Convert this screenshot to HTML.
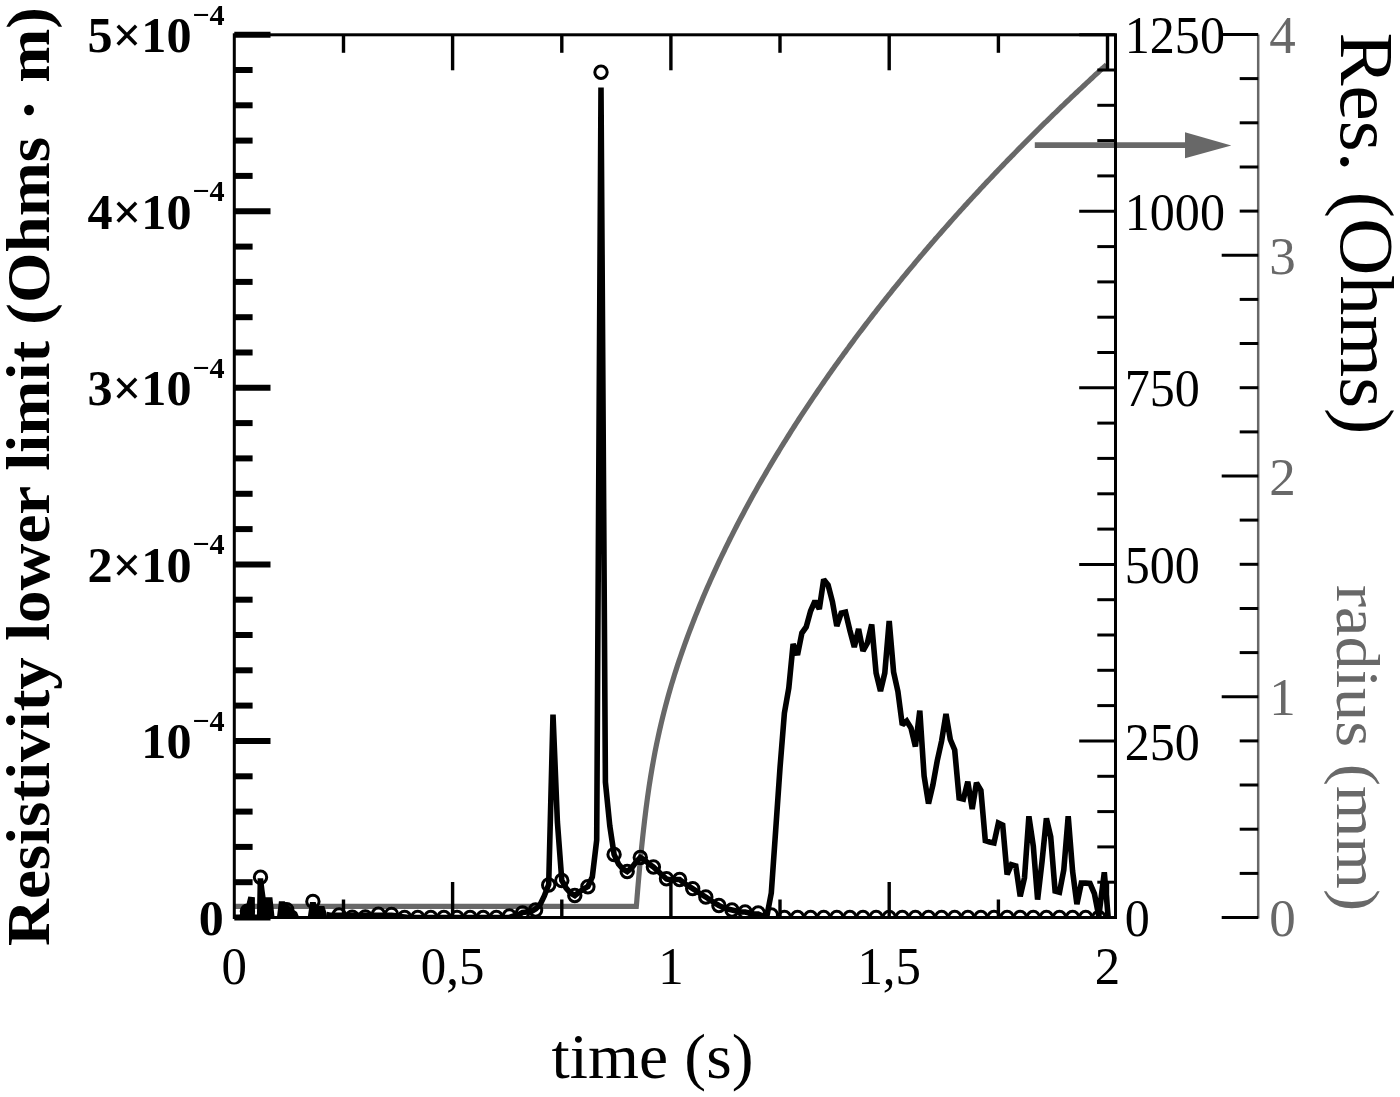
<!DOCTYPE html>
<html><head><meta charset="utf-8"><style>html,body{margin:0;padding:0;background:#fff;}svg{display:block;will-change:transform;}</style></head>
<body><svg width="1400" height="1097" viewBox="0 0 1400 1097">
<defs><clipPath id="cp"><rect x="234.3" y="34.8" width="881.2" height="884.2"/></clipPath></defs>
<rect width="1400" height="1097" fill="#fff"/>
<g clip-path="url(#cp)">
<polyline points="234.3,906.3 636.3,906.3 636.6,903.3 636.9,899.6 637.2,895.8 637.5,892.2 637.8,888.5 638.1,885.0 638.4,881.5 638.7,878.0 639.0,874.6 639.3,871.3 639.6,868.0 639.9,864.8 640.0,863.7 641.5,848.4 643.0,834.3 644.5,821.1 646.0,808.9 647.5,797.7 649.0,787.2 650.5,777.5 652.0,768.5 653.5,760.1 655.0,752.1 656.5,744.6 658.0,737.5 659.5,730.6 661.0,724.1 662.5,717.9 664.0,711.9 665.5,706.1 667.0,700.5 668.5,695.0 670.0,689.8 671.5,684.6 673.0,679.7 674.5,674.8 676.0,670.1 677.5,665.4 679.0,660.9 680.5,656.5 682.0,652.1 683.5,647.8 685.0,643.6 686.5,639.5 688.0,635.4 689.5,631.4 691.0,627.5 692.5,623.6 694.0,619.7 695.5,615.9 697.0,612.2 698.5,608.5 700.0,604.8 701.5,601.2 703.0,597.6 704.5,594.1 706.0,590.6 707.5,587.1 709.0,583.7 710.5,580.3 712.0,577.0 713.5,573.7 715.0,570.4 716.5,567.1 718.0,563.9 719.5,560.7 721.0,557.5 722.5,554.4 724.0,551.3 725.5,548.2 727.0,545.1 728.5,542.1 730.0,539.0 731.5,536.1 733.0,533.1 734.5,530.1 736.0,527.2 737.5,524.3 739.0,521.4 740.5,518.6 742.0,515.7 743.5,512.9 745.0,510.1 746.5,507.3 748.0,504.5 749.5,501.8 751.0,499.0 752.5,496.3 754.0,493.6 755.5,490.9 757.0,488.3 758.5,485.6 760.0,483.0 761.5,480.4 763.0,477.8 764.5,475.2 766.0,472.6 767.5,470.0 769.0,467.5 770.5,464.9 772.0,462.4 773.5,459.9 775.0,457.4 776.5,454.9 778.0,452.5 779.5,450.0 781.0,447.5 782.5,445.1 784.0,442.7 785.5,440.3 787.0,437.9 788.5,435.5 790.0,433.1 791.5,430.7 793.0,428.4 794.5,426.0 796.0,423.7 797.5,421.4 799.0,419.0 800.5,416.7 802.0,414.4 803.5,412.1 805.0,409.9 806.5,407.6 808.0,405.3 809.5,403.1 811.0,400.8 812.5,398.6 814.0,396.4 815.5,394.2 817.0,392.0 818.5,389.8 820.0,387.6 821.5,385.4 823.0,383.2 824.5,381.1 826.0,378.9 827.5,376.7 829.0,374.6 830.5,372.5 832.0,370.3 833.5,368.2 835.0,366.1 836.5,364.0 838.0,361.9 839.5,359.8 841.0,357.8 842.5,355.7 844.0,353.6 845.5,351.6 847.0,349.5 848.5,347.5 850.0,345.4 851.5,343.4 853.0,341.4 854.5,339.3 856.0,337.3 857.5,335.3 859.0,333.3 860.5,331.3 862.0,329.4 863.5,327.4 865.0,325.4 866.5,323.4 868.0,321.5 869.5,319.5 871.0,317.6 872.5,315.6 874.0,313.7 875.5,311.8 877.0,309.8 878.5,307.9 880.0,306.0 881.5,304.1 883.0,302.2 884.5,300.3 886.0,298.4 887.5,296.5 889.0,294.6 890.5,292.8 892.0,290.9 893.5,289.0 895.0,287.2 896.5,285.3 898.0,283.5 899.5,281.6 901.0,279.8 902.5,277.9 904.0,276.1 905.5,274.3 907.0,272.5 908.5,270.7 910.0,268.9 911.5,267.1 913.0,265.3 914.5,263.5 916.0,261.7 917.5,259.9 919.0,258.1 920.5,256.3 922.0,254.6 923.5,252.8 925.0,251.0 926.5,249.3 928.0,247.5 929.5,245.8 931.0,244.0 932.5,242.3 934.0,240.6 935.5,238.8 937.0,237.1 938.5,235.4 940.0,233.7 941.5,232.0 943.0,230.3 944.5,228.6 946.0,226.9 947.5,225.2 949.0,223.5 950.5,221.8 952.0,220.1 953.5,218.4 955.0,216.7 956.5,215.1 958.0,213.4 959.5,211.7 961.0,210.1 962.5,208.4 964.0,206.8 965.5,205.1 967.0,203.5 968.5,201.8 970.0,200.2 971.5,198.6 973.0,196.9 974.5,195.3 976.0,193.7 977.5,192.1 979.0,190.5 980.5,188.8 982.0,187.2 983.5,185.6 985.0,184.0 986.5,182.4 988.0,180.8 989.5,179.3 991.0,177.7 992.5,176.1 994.0,174.5 995.5,172.9 997.0,171.4 998.5,169.8 1000.0,168.2 1001.5,166.7 1003.0,165.1 1004.5,163.5 1006.0,162.0 1007.5,160.4 1009.0,158.9 1010.5,157.4 1012.0,155.8 1013.5,154.3 1015.0,152.8 1016.5,151.2 1018.0,149.7 1019.5,148.2 1021.0,146.7 1022.5,145.1 1024.0,143.6 1025.5,142.1 1027.0,140.6 1028.5,139.1 1030.0,137.6 1031.5,136.1 1033.0,134.6 1034.5,133.1 1036.0,131.6 1037.5,130.1 1039.0,128.7 1040.5,127.2 1042.0,125.7 1043.5,124.2 1045.0,122.7 1046.5,121.3 1048.0,119.8 1049.5,118.3 1051.0,116.9 1052.5,115.4 1054.0,114.0 1055.5,112.5 1057.0,111.1 1058.5,109.6 1060.0,108.2 1061.5,106.7 1063.0,105.3 1064.5,103.9 1066.0,102.4 1067.5,101.0 1069.0,99.6 1070.5,98.2 1072.0,96.7 1073.5,95.3 1075.0,93.9 1076.5,92.5 1078.0,91.1 1079.5,89.7 1081.0,88.3 1082.5,86.9 1084.0,85.5 1085.5,84.1 1087.0,82.7 1088.5,81.3 1090.0,79.9 1091.5,78.5 1093.0,77.1 1094.5,75.7 1096.0,74.3 1097.5,73.0 1099.0,71.6 1100.5,70.2 1102.0,68.8 1103.5,67.5 1105.0,66.1 1106.5,64.8" fill="none" stroke="#686868" stroke-width="5.2"/>
<polyline points="326.5,914.5 330.0,915.2 330.4,915.2 334.7,915.2 339.1,915.2 343.5,915.2 347.8,915.2 352.2,915.2 356.5,915.2 360.9,915.2 365.3,915.2 369.6,915.2 374.0,915.2 378.4,915.2 382.7,915.2 387.1,915.2 391.5,915.2 395.8,915.8 400.2,916.5 404.6,917.0 408.9,917.5 413.3,917.5 417.7,917.5 422.0,917.5 426.4,917.5 430.8,917.5 435.1,917.5 439.5,917.5 443.9,917.5 448.2,917.5 452.6,917.5 457.0,917.5 461.3,917.5 465.7,917.5 470.1,917.5 474.4,917.5 478.8,917.5 483.2,917.5 487.5,917.5 491.9,917.5 496.3,917.5 500.6,917.5 505.0,917.5 509.4,917.5 513.7,916.0 518.1,915.0 522.5,912.5 526.8,912.0 531.2,911.5 535.6,909.0 539.9,905.0 544.3,896.0 548.7,884.5 553.0,714.5 557.4,822.0 561.8,880.5 566.1,888.0 570.5,893.0 574.8,895.5 579.2,892.0 583.6,889.0 587.9,886.5 592.3,877.0 596.7,840.0 601.0,87.6 605.4,782.0 609.8,826.0 614.1,854.5 618.5,864.0 622.9,869.0 627.2,871.5 631.6,868.0 636.0,862.0 640.3,857.5 644.7,860.0 649.1,864.0 653.4,867.0 657.8,871.0 662.2,875.0 666.5,879.0 670.9,880.0 675.3,879.5 679.6,879.5 684.0,883.0 688.4,886.0 692.7,888.6 697.1,891.5 701.5,894.5 705.8,897.0 710.2,900.0 714.6,903.0 718.9,905.5 723.3,907.5 727.7,909.0 732.0,910.0 736.4,911.0 740.8,912.0 745.1,912.0 749.5,913.0 753.9,914.0 758.2,914.0 762.6,916.0 767.0,915.5 771.3,893.0 775.7,830.0 780.0,768.0 784.4,713.0 788.8,688.0 793.1,644.0 797.5,655.0 801.9,633.0 806.2,627.0 810.6,611.0 815.0,601.0 819.3,609.0 823.7,579.5 828.1,585.0 832.4,601.5 836.8,626.0 841.2,613.0 845.5,612.0 849.9,630.5 854.3,647.0 858.6,629.0 863.0,651.0 867.4,643.0 871.7,624.5 876.1,673.0 880.5,691.0 884.8,673.0 889.2,621.0 893.6,672.0 897.9,691.5 902.3,725.0 906.7,721.0 911.0,728.0 915.4,746.5 919.8,710.7 924.1,776.0 928.5,803.6 932.9,785.0 937.2,761.0 941.6,741.0 946.0,713.9 950.3,739.5 954.7,750.0 959.1,798.1 963.4,799.2 967.8,781.7 972.2,809.0 976.5,782.8 980.9,790.4 985.3,840.7 989.6,842.0 994.0,843.0 998.4,823.0 1002.7,825.0 1007.1,874.5 1011.4,864.6 1015.8,865.9 1020.2,896.3 1024.5,877.8 1028.9,816.3 1033.3,846.0 1037.6,899.6 1042.0,861.9 1046.4,818.3 1050.7,836.8 1055.1,891.0 1059.5,892.3 1063.8,869.9 1068.2,816.3 1072.6,871.2 1076.9,904.2 1081.3,883.1 1085.7,883.1 1090.0,883.5 1094.4,893.6 1098.8,916.1 1104.3,872.3 1108.2,917.5" fill="none" stroke="#000" stroke-width="5.6" stroke-linejoin="miter" stroke-miterlimit="2"/>
<g fill="#000"><polygon points="239.3,917.5 240.5,911.0 243.0,906.5 246.5,904.0 248.3,896.5 254.9,897.2 254.9,917.5"/><polygon points="256.9,917.5 257.6,878.3 263.2,878.3 264.6,890.0 265.6,897.3 272.4,897.3 274.6,917.5"/><polygon points="276.9,917.5 278.9,901.2 284.6,901.2 292.0,908.5 297.0,912.0 299.3,917.5"/><polygon points="307.7,917.5 310.0,902.1 315.7,902.1 316.9,905.9 324.3,905.9 326.6,913.0 327.0,917.5"/></g>
<g fill="none" stroke="#000" stroke-width="3"><circle cx="234.3" cy="930.0" r="6.2"/><circle cx="247.4" cy="911.2" r="6.2"/><circle cx="260.5" cy="877.2" r="6.2"/><circle cx="273.6" cy="930.0" r="6.2"/><circle cx="286.7" cy="909.6" r="6.2"/><circle cx="299.8" cy="925.0" r="6.2"/><circle cx="312.9" cy="901.4" r="6.2"/><circle cx="326.0" cy="930.0" r="6.2"/><circle cx="339.1" cy="915.0" r="6.2"/><circle cx="352.2" cy="917.3" r="6.2"/><circle cx="365.3" cy="917.0" r="6.2"/><circle cx="378.4" cy="914.2" r="6.2"/><circle cx="391.5" cy="914.4" r="6.2"/><circle cx="404.6" cy="917.5" r="6.2"/><circle cx="417.7" cy="917.5" r="6.2"/><circle cx="430.8" cy="917.5" r="6.2"/><circle cx="443.9" cy="917.5" r="6.2"/><circle cx="457.0" cy="917.5" r="6.2"/><circle cx="470.1" cy="917.5" r="6.2"/><circle cx="483.2" cy="917.5" r="6.2"/><circle cx="496.3" cy="917.5" r="6.2"/><circle cx="509.4" cy="916.0" r="6.2"/><circle cx="522.5" cy="913.0" r="6.2"/><circle cx="535.6" cy="910.0" r="6.2"/><circle cx="548.7" cy="885.0" r="6.2"/><circle cx="561.8" cy="880.5" r="6.2"/><circle cx="574.8" cy="895.5" r="6.2"/><circle cx="587.9" cy="886.7" r="6.2"/><circle cx="601.0" cy="72.2" r="6.2"/><circle cx="614.1" cy="854.5" r="6.2"/><circle cx="627.2" cy="871.5" r="6.2"/><circle cx="640.3" cy="857.5" r="6.2"/><circle cx="653.4" cy="867.0" r="6.2"/><circle cx="666.5" cy="878.8" r="6.2"/><circle cx="679.6" cy="879.5" r="6.2"/><circle cx="692.7" cy="888.6" r="6.2"/><circle cx="705.8" cy="897.0" r="6.2"/><circle cx="718.9" cy="905.5" r="6.2"/><circle cx="732.0" cy="910.0" r="6.2"/><circle cx="745.1" cy="912.0" r="6.2"/><circle cx="758.2" cy="913.0" r="6.2"/><circle cx="771.3" cy="915.0" r="6.2"/><circle cx="784.4" cy="917.5" r="6.2"/><circle cx="797.5" cy="917.5" r="6.2"/><circle cx="810.6" cy="917.5" r="6.2"/><circle cx="823.7" cy="917.5" r="6.2"/><circle cx="836.8" cy="917.5" r="6.2"/><circle cx="849.9" cy="917.5" r="6.2"/><circle cx="863.0" cy="917.5" r="6.2"/><circle cx="876.1" cy="917.5" r="6.2"/><circle cx="889.2" cy="917.5" r="6.2"/><circle cx="902.3" cy="917.5" r="6.2"/><circle cx="915.4" cy="917.5" r="6.2"/><circle cx="928.5" cy="917.5" r="6.2"/><circle cx="941.6" cy="917.5" r="6.2"/><circle cx="954.7" cy="917.5" r="6.2"/><circle cx="967.8" cy="917.5" r="6.2"/><circle cx="980.9" cy="917.5" r="6.2"/><circle cx="994.0" cy="917.5" r="6.2"/><circle cx="1007.1" cy="917.5" r="6.2"/><circle cx="1020.2" cy="917.5" r="6.2"/><circle cx="1033.3" cy="917.5" r="6.2"/><circle cx="1046.4" cy="917.5" r="6.2"/><circle cx="1059.5" cy="917.5" r="6.2"/><circle cx="1072.6" cy="917.5" r="6.2"/><circle cx="1085.7" cy="917.5" r="6.2"/><circle cx="1098.8" cy="917.5" r="6.2"/></g>
</g>
<line x1="1034.8" y1="145.2" x2="1187" y2="145.2" stroke="#686868" stroke-width="5.8"/>
<polygon points="1185,132.3 1231.3,145.4 1185,158.3" fill="#686868"/>
<rect x="234.3" y="34.8" width="881.2" height="882.7" fill="none" stroke="#000" stroke-width="3"/>
<line x1="1258.2" y1="34.5" x2="1258.2" y2="918.5" stroke="#686868" stroke-width="2.5"/>
<line x1="234.3" y1="917.5" x2="270.5" y2="917.5" stroke="#000" stroke-width="6"/><line x1="234.3" y1="882.2" x2="252.6" y2="882.2" stroke="#000" stroke-width="6"/><line x1="234.3" y1="846.9" x2="252.6" y2="846.9" stroke="#000" stroke-width="6"/><line x1="234.3" y1="811.6" x2="252.6" y2="811.6" stroke="#000" stroke-width="6"/><line x1="234.3" y1="776.3" x2="252.6" y2="776.3" stroke="#000" stroke-width="6"/><line x1="234.3" y1="740.9" x2="270.5" y2="740.9" stroke="#000" stroke-width="6"/><line x1="234.3" y1="705.6" x2="252.6" y2="705.6" stroke="#000" stroke-width="6"/><line x1="234.3" y1="670.3" x2="252.6" y2="670.3" stroke="#000" stroke-width="6"/><line x1="234.3" y1="635.0" x2="252.6" y2="635.0" stroke="#000" stroke-width="6"/><line x1="234.3" y1="599.7" x2="252.6" y2="599.7" stroke="#000" stroke-width="6"/><line x1="234.3" y1="564.4" x2="270.5" y2="564.4" stroke="#000" stroke-width="6"/><line x1="234.3" y1="529.1" x2="252.6" y2="529.1" stroke="#000" stroke-width="6"/><line x1="234.3" y1="493.8" x2="252.6" y2="493.8" stroke="#000" stroke-width="6"/><line x1="234.3" y1="458.4" x2="252.6" y2="458.4" stroke="#000" stroke-width="6"/><line x1="234.3" y1="423.1" x2="252.6" y2="423.1" stroke="#000" stroke-width="6"/><line x1="234.3" y1="387.8" x2="270.5" y2="387.8" stroke="#000" stroke-width="6"/><line x1="234.3" y1="352.5" x2="252.6" y2="352.5" stroke="#000" stroke-width="6"/><line x1="234.3" y1="317.2" x2="252.6" y2="317.2" stroke="#000" stroke-width="6"/><line x1="234.3" y1="281.9" x2="252.6" y2="281.9" stroke="#000" stroke-width="6"/><line x1="234.3" y1="246.6" x2="252.6" y2="246.6" stroke="#000" stroke-width="6"/><line x1="234.3" y1="211.3" x2="270.5" y2="211.3" stroke="#000" stroke-width="6"/><line x1="234.3" y1="175.9" x2="252.6" y2="175.9" stroke="#000" stroke-width="6"/><line x1="234.3" y1="140.6" x2="252.6" y2="140.6" stroke="#000" stroke-width="6"/><line x1="234.3" y1="105.3" x2="252.6" y2="105.3" stroke="#000" stroke-width="6"/><line x1="234.3" y1="70.0" x2="252.6" y2="70.0" stroke="#000" stroke-width="6"/><line x1="234.3" y1="34.7" x2="270.5" y2="34.7" stroke="#000" stroke-width="6"/><line x1="1079.2" y1="917.5" x2="1115.5" y2="917.5" stroke="#000" stroke-width="3"/><line x1="1097.3" y1="882.2" x2="1115.5" y2="882.2" stroke="#000" stroke-width="3"/><line x1="1097.3" y1="846.9" x2="1115.5" y2="846.9" stroke="#000" stroke-width="3"/><line x1="1097.3" y1="811.6" x2="1115.5" y2="811.6" stroke="#000" stroke-width="3"/><line x1="1097.3" y1="776.3" x2="1115.5" y2="776.3" stroke="#000" stroke-width="3"/><line x1="1079.2" y1="740.9" x2="1115.5" y2="740.9" stroke="#000" stroke-width="3"/><line x1="1097.3" y1="705.6" x2="1115.5" y2="705.6" stroke="#000" stroke-width="3"/><line x1="1097.3" y1="670.3" x2="1115.5" y2="670.3" stroke="#000" stroke-width="3"/><line x1="1097.3" y1="635.0" x2="1115.5" y2="635.0" stroke="#000" stroke-width="3"/><line x1="1097.3" y1="599.7" x2="1115.5" y2="599.7" stroke="#000" stroke-width="3"/><line x1="1079.2" y1="564.4" x2="1115.5" y2="564.4" stroke="#000" stroke-width="3"/><line x1="1097.3" y1="529.1" x2="1115.5" y2="529.1" stroke="#000" stroke-width="3"/><line x1="1097.3" y1="493.8" x2="1115.5" y2="493.8" stroke="#000" stroke-width="3"/><line x1="1097.3" y1="458.4" x2="1115.5" y2="458.4" stroke="#000" stroke-width="3"/><line x1="1097.3" y1="423.1" x2="1115.5" y2="423.1" stroke="#000" stroke-width="3"/><line x1="1079.2" y1="387.8" x2="1115.5" y2="387.8" stroke="#000" stroke-width="3"/><line x1="1097.3" y1="352.5" x2="1115.5" y2="352.5" stroke="#000" stroke-width="3"/><line x1="1097.3" y1="317.2" x2="1115.5" y2="317.2" stroke="#000" stroke-width="3"/><line x1="1097.3" y1="281.9" x2="1115.5" y2="281.9" stroke="#000" stroke-width="3"/><line x1="1097.3" y1="246.6" x2="1115.5" y2="246.6" stroke="#000" stroke-width="3"/><line x1="1079.2" y1="211.3" x2="1115.5" y2="211.3" stroke="#000" stroke-width="3"/><line x1="1097.3" y1="175.9" x2="1115.5" y2="175.9" stroke="#000" stroke-width="3"/><line x1="1097.3" y1="140.6" x2="1115.5" y2="140.6" stroke="#000" stroke-width="3"/><line x1="1097.3" y1="105.3" x2="1115.5" y2="105.3" stroke="#000" stroke-width="3"/><line x1="1097.3" y1="70.0" x2="1115.5" y2="70.0" stroke="#000" stroke-width="3"/><line x1="1079.2" y1="34.7" x2="1115.5" y2="34.7" stroke="#000" stroke-width="3"/><line x1="343.5" y1="34.8" x2="343.5" y2="52.8" stroke="#000" stroke-width="3.4"/><line x1="343.5" y1="917.5" x2="343.5" y2="899.5" stroke="#000" stroke-width="3.4"/><line x1="452.6" y1="34.8" x2="452.6" y2="70.3" stroke="#000" stroke-width="3.4"/><line x1="452.6" y1="917.5" x2="452.6" y2="882.0" stroke="#000" stroke-width="3.4"/><line x1="561.8" y1="34.8" x2="561.8" y2="52.8" stroke="#000" stroke-width="3.4"/><line x1="561.8" y1="917.5" x2="561.8" y2="899.5" stroke="#000" stroke-width="3.4"/><line x1="670.9" y1="34.8" x2="670.9" y2="70.3" stroke="#000" stroke-width="3.4"/><line x1="670.9" y1="917.5" x2="670.9" y2="882.0" stroke="#000" stroke-width="3.4"/><line x1="780.0" y1="34.8" x2="780.0" y2="52.8" stroke="#000" stroke-width="3.4"/><line x1="780.0" y1="917.5" x2="780.0" y2="899.5" stroke="#000" stroke-width="3.4"/><line x1="889.2" y1="34.8" x2="889.2" y2="70.3" stroke="#000" stroke-width="3.4"/><line x1="889.2" y1="917.5" x2="889.2" y2="882.0" stroke="#000" stroke-width="3.4"/><line x1="998.4" y1="34.8" x2="998.4" y2="52.8" stroke="#000" stroke-width="3.4"/><line x1="998.4" y1="917.5" x2="998.4" y2="899.5" stroke="#000" stroke-width="3.4"/><line x1="1107.5" y1="34.8" x2="1107.5" y2="70.3" stroke="#000" stroke-width="3.4"/><line x1="1107.5" y1="917.5" x2="1107.5" y2="882.0" stroke="#000" stroke-width="3.4"/><line x1="1221.7" y1="917.5" x2="1258.2" y2="917.5" stroke="#000" stroke-width="3"/><line x1="1239.7" y1="873.4" x2="1258.2" y2="873.4" stroke="#000" stroke-width="3"/><line x1="1239.7" y1="829.2" x2="1258.2" y2="829.2" stroke="#000" stroke-width="3"/><line x1="1239.7" y1="785.0" x2="1258.2" y2="785.0" stroke="#000" stroke-width="3"/><line x1="1239.7" y1="740.9" x2="1258.2" y2="740.9" stroke="#000" stroke-width="3"/><line x1="1221.7" y1="696.8" x2="1258.2" y2="696.8" stroke="#000" stroke-width="3"/><line x1="1239.7" y1="652.6" x2="1258.2" y2="652.6" stroke="#000" stroke-width="3"/><line x1="1239.7" y1="608.5" x2="1258.2" y2="608.5" stroke="#000" stroke-width="3"/><line x1="1239.7" y1="564.3" x2="1258.2" y2="564.3" stroke="#000" stroke-width="3"/><line x1="1239.7" y1="520.1" x2="1258.2" y2="520.1" stroke="#000" stroke-width="3"/><line x1="1221.7" y1="476.0" x2="1258.2" y2="476.0" stroke="#000" stroke-width="3"/><line x1="1239.7" y1="431.9" x2="1258.2" y2="431.9" stroke="#000" stroke-width="3"/><line x1="1239.7" y1="387.7" x2="1258.2" y2="387.7" stroke="#000" stroke-width="3"/><line x1="1239.7" y1="343.5" x2="1258.2" y2="343.5" stroke="#000" stroke-width="3"/><line x1="1239.7" y1="299.4" x2="1258.2" y2="299.4" stroke="#000" stroke-width="3"/><line x1="1221.7" y1="255.2" x2="1258.2" y2="255.2" stroke="#000" stroke-width="3"/><line x1="1239.7" y1="211.1" x2="1258.2" y2="211.1" stroke="#000" stroke-width="3"/><line x1="1239.7" y1="167.0" x2="1258.2" y2="167.0" stroke="#000" stroke-width="3"/><line x1="1239.7" y1="122.8" x2="1258.2" y2="122.8" stroke="#000" stroke-width="3"/><line x1="1239.7" y1="78.6" x2="1258.2" y2="78.6" stroke="#000" stroke-width="3"/><line x1="1221.7" y1="34.5" x2="1258.2" y2="34.5" stroke="#000" stroke-width="3"/>
<text x="191.5" y="51.9" font-family="Liberation Serif" font-weight="bold" font-size="50.2" text-anchor="end">5×10</text><text x="224.5" y="24.7" font-family="Liberation Serif" font-weight="bold" font-size="30.2" text-anchor="end">−4</text><text x="191.5" y="228.5" font-family="Liberation Serif" font-weight="bold" font-size="50.2" text-anchor="end">4×10</text><text x="224.5" y="201.3" font-family="Liberation Serif" font-weight="bold" font-size="30.2" text-anchor="end">−4</text><text x="191.5" y="405.0" font-family="Liberation Serif" font-weight="bold" font-size="50.2" text-anchor="end">3×10</text><text x="224.5" y="377.8" font-family="Liberation Serif" font-weight="bold" font-size="30.2" text-anchor="end">−4</text><text x="191.5" y="581.6" font-family="Liberation Serif" font-weight="bold" font-size="50.2" text-anchor="end">2×10</text><text x="224.5" y="554.4" font-family="Liberation Serif" font-weight="bold" font-size="30.2" text-anchor="end">−4</text><text x="191.5" y="758.1" font-family="Liberation Serif" font-weight="bold" font-size="50.2" text-anchor="end">10</text><text x="224.5" y="730.9" font-family="Liberation Serif" font-weight="bold" font-size="30.2" text-anchor="end">−4</text><text x="223.8" y="935.0" font-family="Liberation Serif" font-weight="bold" font-size="50" text-anchor="end">0</text><text transform="translate(1124.8,936.1) scale(0.945,1)" font-family="Liberation Serif" font-size="53">0</text><text transform="translate(1124.8,759.5) scale(0.945,1)" font-family="Liberation Serif" font-size="53">250</text><text transform="translate(1124.8,583.0) scale(0.945,1)" font-family="Liberation Serif" font-size="53">500</text><text transform="translate(1124.8,406.4) scale(0.945,1)" font-family="Liberation Serif" font-size="53">750</text><text transform="translate(1124.8,229.9) scale(0.945,1)" font-family="Liberation Serif" font-size="53">1000</text><text transform="translate(1124.8,53.3) scale(0.945,1)" font-family="Liberation Serif" font-size="53">1250</text><text x="1269.2" y="936.1" font-family="Liberation Serif" font-size="53" fill="#686868">0</text><text x="1269.2" y="715.4" font-family="Liberation Serif" font-size="53" fill="#686868">1</text><text x="1269.2" y="494.6" font-family="Liberation Serif" font-size="53" fill="#686868">2</text><text x="1269.2" y="273.9" font-family="Liberation Serif" font-size="53" fill="#686868">3</text><text x="1269.2" y="53.1" font-family="Liberation Serif" font-size="53" fill="#686868">4</text><text transform="translate(234.3,983.6) scale(0.96,1)" font-family="Liberation Serif" font-size="53" text-anchor="middle">0</text><text transform="translate(452.6,983.6) scale(0.96,1)" font-family="Liberation Serif" font-size="53" text-anchor="middle">0,5</text><text transform="translate(670.9,983.6) scale(0.96,1)" font-family="Liberation Serif" font-size="53" text-anchor="middle">1</text><text transform="translate(889.2,983.6) scale(0.96,1)" font-family="Liberation Serif" font-size="53" text-anchor="middle">1,5</text><text transform="translate(1107.5,983.6) scale(0.96,1)" font-family="Liberation Serif" font-size="53" text-anchor="middle">2</text><text transform="translate(652.5,1078.3) scale(1.04,1)" font-family="Liberation Serif" font-size="63" text-anchor="middle">time (s)</text><text transform="translate(49.2,476.5) rotate(-90) scale(1.048,1)" font-family="Liberation Serif" font-weight="bold" font-size="62" text-anchor="middle">Resistivity lower limit (Ohms · m)</text><text transform="translate(1340.8,233.5) rotate(90) scale(1.047,1)" font-family="Liberation Serif" font-size="76" text-anchor="middle">Res. (Ohms)</text><text transform="translate(1337.2,748) rotate(90) scale(1.07,1)" font-family="Liberation Serif" font-size="62" fill="#686868" text-anchor="middle">radius (mm)</text>
</svg></body></html>
